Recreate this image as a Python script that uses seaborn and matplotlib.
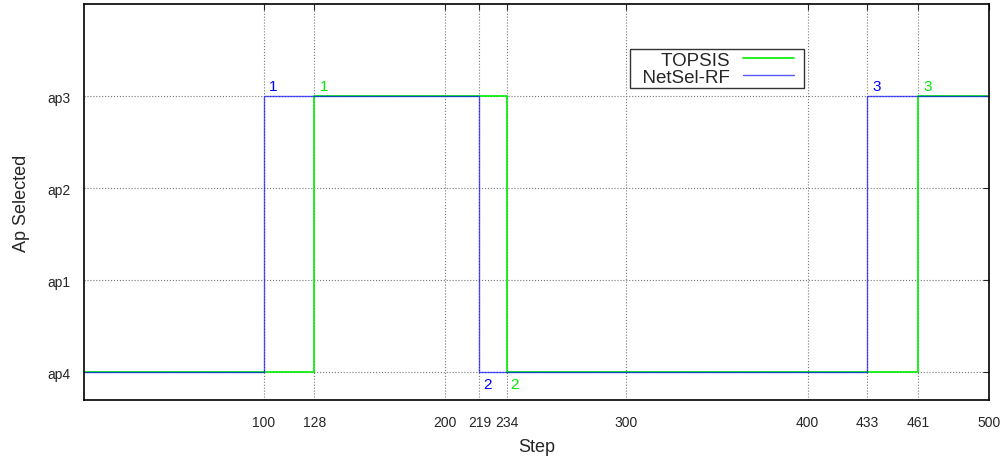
import seaborn as sns
import pandas as pd
from matplotlib import pyplot as plt
from matplotlib.lines import Line2D
from matplotlib.legend_handler import HandlerLine2D

# Datos: pasos donde cambia el AP seleccionado
ap_labels = ['ap4', 'ap1', 'ap2', 'ap3']
x_ticks = [100, 128, 200, 219, 234, 300, 400, 433, 461, 500]

topsis_steps = [1, 128, 234, 461, 500]
topsis_ap = [0, 3, 0, 3, 3]

netsel_steps = [1, 100, 219, 433, 500]
netsel_ap = [0, 3, 0, 3, 3]

# Etiquetas de cambio (paso, ap, texto)
topsis_marks = [(128, 3, '1'), (234, 0, '2'), (461, 3, '3')]
netsel_marks = [(100, 3, '1'), (219, 0, '2'), (433, 3, '3')]

df_topsis = pd.DataFrame({'Step': topsis_steps, 'ap': topsis_ap})
df_netsel = pd.DataFrame({'Step': netsel_steps, 'ap': netsel_ap})

sns.set_style('white')
plt.rcParams['font.family'] = ['Liberation Sans', 'DejaVu Sans']

fig, ax = plt.subplots(figsize=(10.02, 4.6), dpi=100)
fig.subplots_adjust(left=0.084, right=0.987, top=0.989, bottom=0.128)

sns.lineplot(data=df_topsis, x='Step', y='ap', drawstyle='steps-post', color='#00ee00',
             linewidth=1.2, label='  TOPSIS', ax=ax, estimator=None)
sns.lineplot(data=df_netsel, x='Step', y='ap', drawstyle='steps-post', color='#0000ff',
             linewidth=1.0, alpha=0.65, label='  NetSel-RF', ax=ax, estimator=None)

def poner_marcas(marcas, color):
    for x, y, t in marcas:
        if y == 3:
            ax.text(x + 3, y + 0.03, t, color=color, fontsize=11, ha='left', va='bottom')
        else:
            ax.text(x + 2, y - 0.05, t, color=color, fontsize=11, ha='left', va='top')

poner_marcas(netsel_marks, '#0000ff')
poner_marcas(topsis_marks, '#00ee00')

ax.set_xlim(1, 500)
ax.set_ylim(-0.3, 4)
ax.set_xticks(x_ticks)
ax.set_xticklabels([str(v) for v in x_ticks])
ax.set_yticks(range(len(ap_labels)))
ax.set_yticklabels(ap_labels)
ax.tick_params(direction='in', labelsize=10, length=4, pad=11, top=True, right=True)
ax.tick_params(axis='y', pad=10)
ax.grid(True, linestyle=':', color='#777777', linewidth=0.8)

for s in ax.spines.values():
    s.set_color('black')
    s.set_linewidth(1.2)

ax.set_xlabel('Step', fontsize=13, labelpad=6)
ax.set_ylabel('Ap Selected', fontsize=13, labelpad=12)

leg = ax.legend(loc='upper left', bbox_to_anchor=(0.603, 0.886), markerfirst=False,
                fontsize=13.5, frameon=True, fancybox=False, borderpad=0.12,
                labelspacing=0.0, handlelength=3.6, handletextpad=0.25, borderaxespad=0,
                handler_map={Line2D: HandlerLine2D(numpoints=2, marker_pad=0.45)})
leg.get_frame().set_edgecolor('black')
leg.get_frame().set_linewidth(1.0)

fig.savefig('out.png', dpi=100)
